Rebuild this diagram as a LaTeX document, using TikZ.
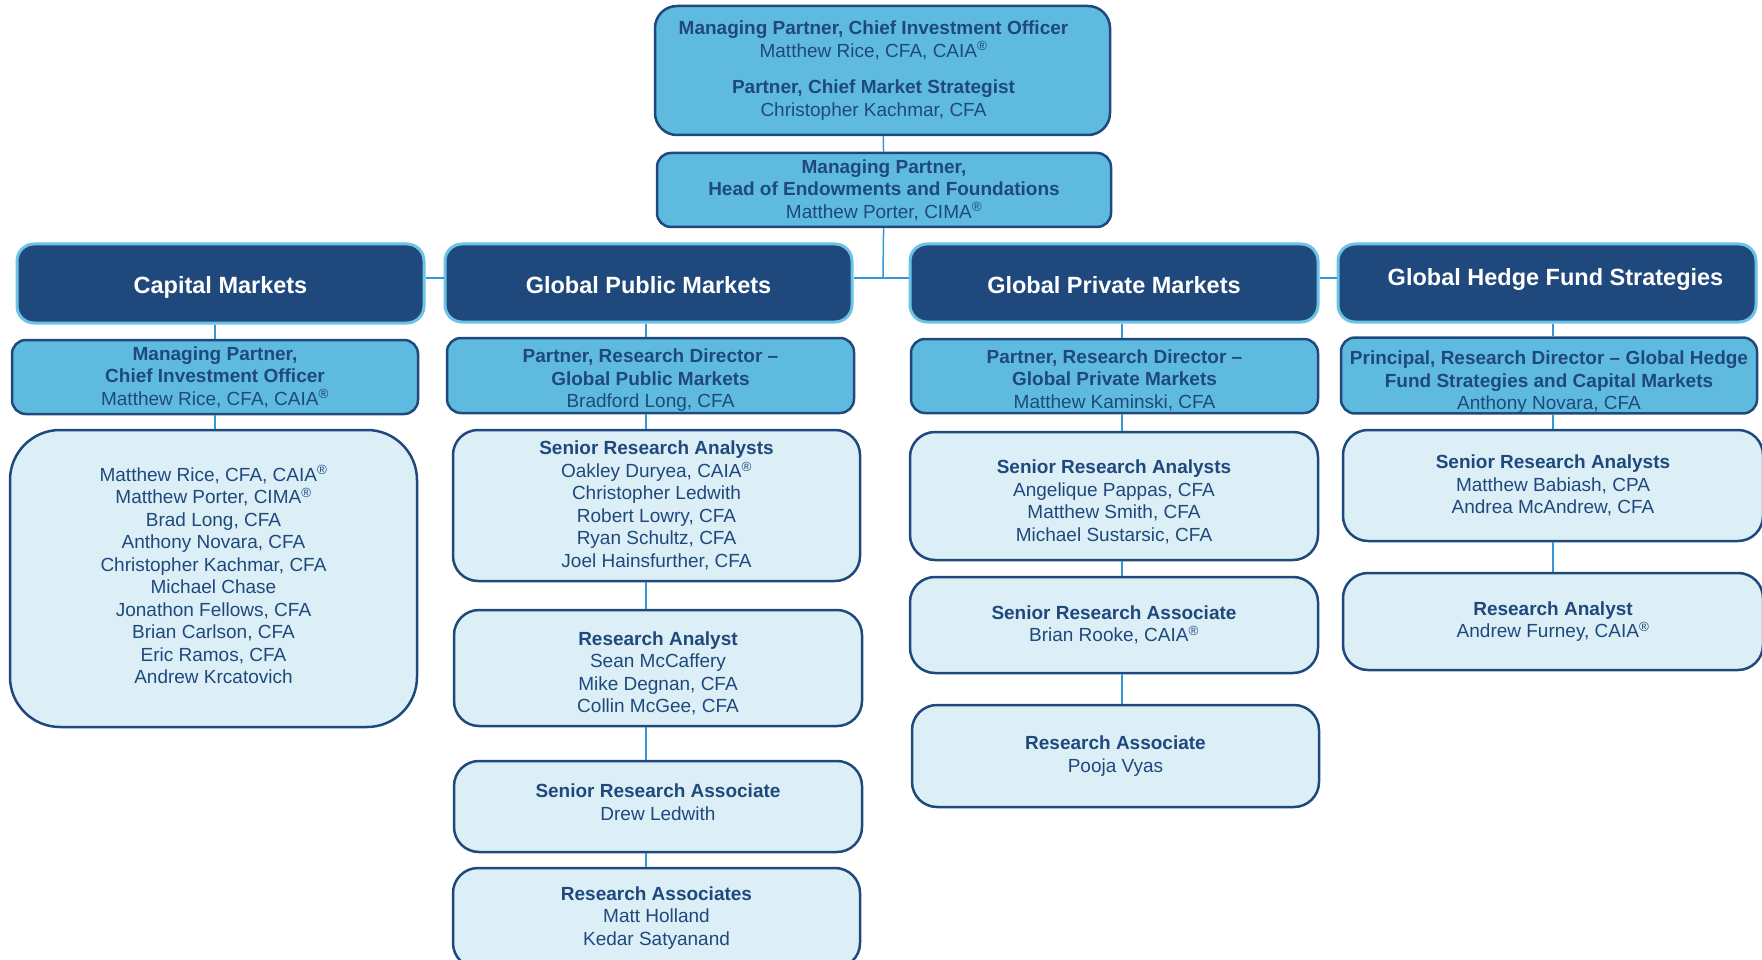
\documentclass[tikz,border=0pt]{standalone}
\usepackage{fontspec}
\setmainfont{Liberation Sans}
\definecolor{navy}{HTML}{1F497D}
\definecolor{midblue}{HTML}{5EBBDF}
\definecolor{paleblue}{HTML}{DCEFF6}
\definecolor{edgeblue}{HTML}{6CC3E6}
\definecolor{linkblue}{HTML}{3399D6}
\newcommand{\regmark}{\textsuperscript{\textregistered}}

\begin{document}
\begin{tikzpicture}[x=1pt,y=-1pt,
  orgbox/.style={draw=navy,line width=2.5pt,inner sep=0pt,align=center,text=navy,
    font=\fontsize{19}{22.5}\selectfont},
  topbox/.style={orgbox,fill=midblue,rounded corners=14pt},
  teambox/.style={orgbox,fill=paleblue,rounded corners=25pt},
  headbox/.style={draw=edgeblue,line width=3pt,fill=navy,rounded corners=17pt,inner sep=0pt,
    text height=20pt,text depth=0pt,text=white,font=\fontsize{23.5}{28}\selectfont\bfseries},
  conn/.style={draw=linkblue,line width=1.5pt}]

  \useasboundingbox (0,0) rectangle (1762,960);
  \clip (0,0) rectangle (1762,960);

  \node[topbox,rounded corners=22pt,minimum width=455,minimum height=129] at (882.5,70.5) (cio) {\textbf{Managing Partner, Chief Investment Officer}\kern18pt\\Matthew Rice, CFA, CAIA\regmark\kern18pt\\[14pt]\textbf{Partner, Chief Market Strategist}\kern18pt\\Christopher Kachmar, CFA\kern18pt};
  \node[topbox,minimum width=454,minimum height=74] at (884,190) (porter) {\textbf{Managing Partner,}\\\textbf{Head of Endowments and Foundations}\\Matthew Porter, CIMA\regmark};

  \node[headbox,minimum width=407,minimum height=79] at (220.5,283.5) (caphd) {Capital Markets};
  \node[headbox,minimum width=407,minimum height=78] at (648.5,283) (pubhd) {Global Public Markets};
  \node[headbox,minimum width=408,minimum height=78] at (1114,283) (privhd) {Global Private Markets};
  \node[headbox,minimum width=418,minimum height=78] at (1547,283) (hedgehd) {\hspace*{17pt}\raisebox{7.5pt}{Global Hedge Fund Strategies}};

  \node[topbox,minimum width=406,minimum height=74] at (215,377) (caprole) {\textbf{Managing Partner,}\\\textbf{Chief Investment Officer}\\Matthew Rice, CFA, CAIA\regmark};
  \node[topbox,minimum width=407,minimum height=75] at (650.5,375.5) (pubrole) {\rule{0pt}{23pt}\textbf{Partner, Research Director –}\\\textbf{Global Public Markets}\\Bradford Long, CFA};
  \node[topbox,minimum width=407,minimum height=74] at (1114.5,376) (privrole) {\rule{0pt}{22pt}\textbf{Partner, Research Director –}\\\textbf{Global Private Markets}\\Matthew Kaminski, CFA};
  \node[topbox,minimum width=416,minimum height=75] at (1549,375.5) (hedgerole) {\rule{0pt}{27pt}\textbf{Principal, Research Director – Global Hedge}\\\textbf{Fund Strategies and Capital Markets}\\Anthony Novara, CFA};

  \node[teambox,rounded corners=50pt,minimum width=407,minimum height=297] at (213.5,578.5) (capteam) {Matthew Rice, CFA, CAIA\regmark\\Matthew Porter, CIMA\regmark\\Brad Long, CFA\\Anthony Novara, CFA\\Christopher Kachmar, CFA\\Michael Chase\\Jonathon Fellows, CFA\\Brian Carlson, CFA\\Eric Ramos, CFA\\Andrew Krcatovich\rule[-8pt]{0pt}{8pt}};

  \node[teambox,minimum width=407,minimum height=151] at (656.5,505.5) (pubsra) {\textbf{Senior Research Analysts}\\Oakley Duryea, CAIA\regmark\\Christopher Ledwith\\Robert Lowry, CFA\\Ryan Schultz, CFA\\Joel Hainsfurther, CFA};
  \node[teambox,minimum width=408,minimum height=116] at (658,668) (pubra) {\rule{0pt}{24pt}\textbf{Research Analyst}\\Sean McCaffery\\Mike Degnan, CFA\\Collin McGee, CFA};
  \node[teambox,minimum width=408,minimum height=91] at (658,806.5) (pubsrassoc) {\textbf{Senior Research Associate}\\Drew Ledwith\rule[-9pt]{0pt}{9pt}};
  \node[teambox,minimum width=407,minimum height=100] at (656.5,918) (pubrassoc) {\textbf{Research Associates}\\Matt Holland\\Kedar Satyanand};

  \node[teambox,minimum width=408,minimum height=128] at (1114,496) (privsra) {\rule{0pt}{25pt}\textbf{Senior Research Analysts}\\Angelique Pappas, CFA\\Matthew Smith, CFA\\Michael Sustarsic, CFA};
  \node[teambox,minimum width=408,minimum height=96] at (1114,625) (privsrassoc) {\textbf{Senior Research Associate}\\Brian Rooke, CAIA\regmark};
  \node[teambox,minimum width=407,minimum height=102] at (1115.5,756) (privrassoc) {\textbf{Research Associate}\\Pooja Vyas};

  \node[teambox,minimum width=420,minimum height=111] at (1553,485.5) (hedgesra) {\textbf{Senior Research Analysts}\\Matthew Babiash, CPA\\Andrea McAndrew, CFA};
  \node[teambox,minimum width=420,minimum height=97] at (1553,621.5) (hedgera) {\textbf{Research Analyst}\\Andrew Furney, CAIA\regmark};

  \coordinate (hub) at (883,278);
  \coordinate (capx) at (215,0);
  \coordinate (pubx) at (646,0);
  \coordinate (privx) at (1122,0);
  \coordinate (hedgex) at (1553,0);

  \draw[conn] (cio) -- (porter);
  \draw[conn] (porter) -- (hub);
  \draw[conn] (caphd.east |- hub) -- (pubhd.west |- hub);
  \draw[conn] (pubhd.east |- hub) -- (privhd.west |- hub);
  \draw[conn] (privhd.east |- hub) -- (hedgehd.west |- hub);

  \draw[conn] (caphd.south -| capx) -- (caprole.north -| capx);
  \draw[conn] (caprole.south -| capx) -- (capteam.north -| capx);

  \draw[conn] (pubhd.south -| pubx) -- (pubrole.north -| pubx);
  \draw[conn] (pubrole.south -| pubx) -- (pubsra.north -| pubx);
  \draw[conn] (pubsra.south -| pubx) -- (pubra.north -| pubx);
  \draw[conn] (pubra.south -| pubx) -- (pubsrassoc.north -| pubx);
  \draw[conn] (pubsrassoc.south -| pubx) -- (pubrassoc.north -| pubx);

  \draw[conn] (privhd.south -| privx) -- (privrole.north -| privx);
  \draw[conn] (privrole.south -| privx) -- (privsra.north -| privx);
  \draw[conn] (privsra.south -| privx) -- (privsrassoc.north -| privx);
  \draw[conn] (privsrassoc.south -| privx) -- (privrassoc.north -| privx);

  \draw[conn] (hedgehd.south -| hedgex) -- (hedgerole.north -| hedgex);
  \draw[conn] (hedgerole.south -| hedgex) -- (hedgesra.north -| hedgex);
  \draw[conn] (hedgesra.south -| hedgex) -- (hedgera.north -| hedgex);

\end{tikzpicture}
\end{document}
